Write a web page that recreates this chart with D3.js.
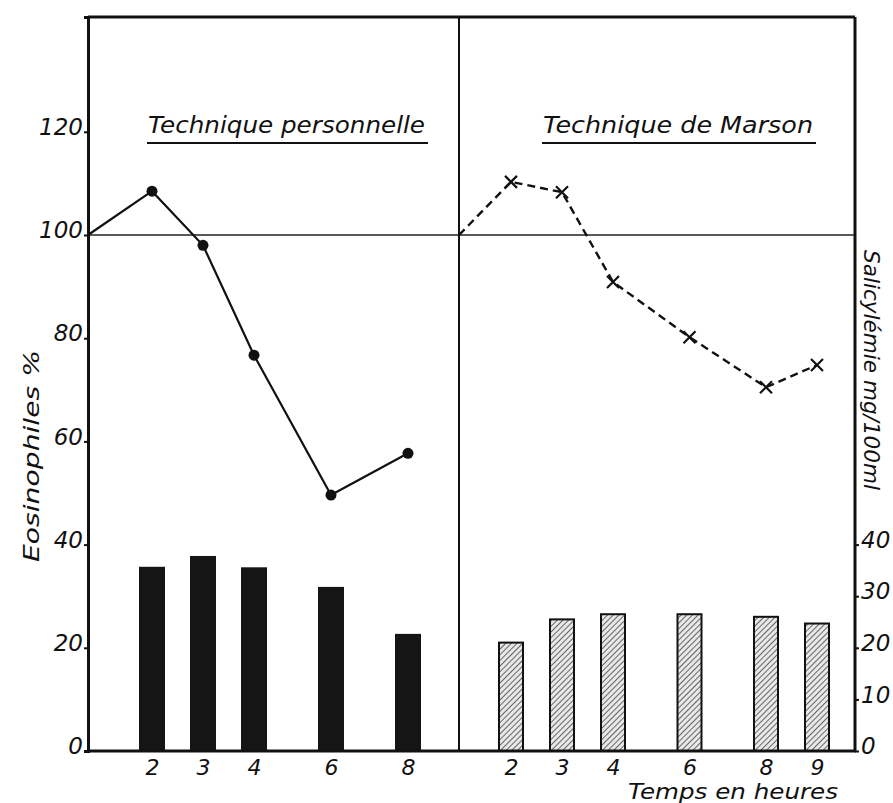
<!DOCTYPE html>
<html><head><meta charset="utf-8">
<script src="https://cdn.jsdelivr.net/npm/d3@7"></script>
<style>
body{margin:0;background:#fff;}
svg{display:block;}
text{font-family:"DejaVu Sans",sans-serif;font-style:italic;fill:#111;}
</style></head>
<body><svg id="c" width="893" height="803"></svg>
<script>
// ---- data ----
const hoursLeft = [2, 3, 4, 6, 8];
const eosLeft = [108.5, 98, 76.7, 49.6, 57.7];
const salLeft = [35.7, 37.8, 35.6, 31.8, 22.7];
const hoursRight = [2, 3, 4, 6, 8, 9];
const eosRight = [110.3, 108.3, 90.9, 80.2, 70.5, 74.8];
const salRight = [21.2, 25.7, 26.7, 26.7, 26.2, 24.9];
const startPoint = [0, 100];
const leftTicks = [0, 20, 40, 60, 80, 100, 120];
const rightTicks = [0, 10, 20, 30, 40];
const titles = ["Technique personnelle", "Technique de Marson"];
const yLabelLeft = "Eosinophiles %";
const yLabelRight = "Salicylémie mg/100ml";
const xLabel = "Temps en heures";

// ---- layout ----
const svg = d3.select("#c");
const X0 = 88, XM = 459, X1 = 855, YT = 17, YB = 751;
const y = d3.scaleLinear().domain([0, 142.25]).range([YB, YT]);
const yR = d3.scaleLinear().domain([0, 142.25]).range([YB, YT]);
const xL = d3.scaleLinear().domain([0, 2, 4, 8]).range([X0, 152, 254, 408]);
const xR = d3.scaleLinear().domain([0, 2, 4, 8, 9]).range([XM, 511, 613, 766, 817]);
const barW = 26;

// hatch pattern
const defs = svg.append("defs");
const pat = defs.append("pattern").attr("id", "hatch").attr("patternUnits", "userSpaceOnUse")
  .attr("width", 4).attr("height", 4).attr("patternTransform", "rotate(45)");
pat.append("rect").attr("width", 4).attr("height", 4).attr("fill", "#e8e8e8");
pat.append("line").attr("x1", 0).attr("y1", 0).attr("x2", 0).attr("y2", 4)
  .attr("stroke", "#444").attr("stroke-width", 1.6);

// 100 reference line
svg.append("line").attr("x1", X0).attr("x2", X1).attr("y1", y(100)).attr("y2", y(100))
  .attr("stroke", "#222").attr("stroke-width", 1.5);

// bars left (solid)
svg.append("g").selectAll("rect").data(hoursLeft).join("rect")
  .attr("x", (d) => xL(d) - barW / 2).attr("width", barW)
  .attr("y", (d, i) => yR(salLeft[i])).attr("height", (d, i) => YB - yR(salLeft[i]))
  .attr("fill", "#151515");
// bars right (hatched)
svg.append("g").selectAll("rect").data(hoursRight).join("rect")
  .attr("x", (d) => xR(d) - barW / 2 + 1).attr("width", barW - 2)
  .attr("y", (d, i) => yR(salRight[i]) + 1).attr("height", (d, i) => YB - yR(salRight[i]) - 1)
  .attr("fill", "url(#hatch)").attr("stroke", "#111").attr("stroke-width", 2);

// lines
const lineL = d3.line().x((d) => xL(d[0])).y((d) => y(d[1]));
const lineR = d3.line().x((d) => xR(d[0])).y((d) => y(d[1]));
const ptsL = [startPoint].concat(hoursLeft.map((h, i) => [h, eosLeft[i]]));
const ptsR = [startPoint].concat(hoursRight.map((h, i) => [h, eosRight[i]]));
svg.append("path").attr("d", lineL(ptsL)).attr("fill", "none").attr("stroke", "#111").attr("stroke-width", 2.2);
svg.append("path").attr("d", lineR(ptsR)).attr("fill", "none").attr("stroke", "#111")
  .attr("stroke-width", 2.4).attr("stroke-dasharray", "8,5");
svg.append("g").selectAll("circle").data(hoursLeft).join("circle")
  .attr("cx", (d) => xL(d)).attr("cy", (d, i) => y(eosLeft[i])).attr("r", 5.5).attr("fill", "#111");
const s = 6;
svg.append("g").selectAll("path").data(hoursRight).join("path")
  .attr("d", (d, i) => {
    const cx = xR(d), cy = y(eosRight[i]);
    return `M${cx - s},${cy - s}L${cx + s},${cy + s}M${cx + s},${cy - s}L${cx - s},${cy + s}`;
  })
  .attr("stroke", "#111").attr("stroke-width", 2.2).attr("fill", "none");

// frame
const frame = svg.append("g").attr("stroke", "#111").attr("fill", "none");
frame.append("line").attr("x1", X0).attr("x2", X1).attr("y1", YT).attr("y2", YT).attr("stroke-width", 3);
frame.append("line").attr("x1", XM).attr("x2", XM).attr("y1", YT).attr("y2", YB).attr("stroke-width", 2);
frame.append("line").attr("x1", X1).attr("x2", X1).attr("y1", YT).attr("y2", YB).attr("stroke-width", 3);

// left axis
const axL = svg.append("g").attr("transform", `translate(${X0},0)`)
  .call(d3.axisLeft(y).tickValues(leftTicks).tickSize(4).tickPadding(1).tickFormat(d3.format("d")));
axL.select(".domain").attr("stroke", "#111").attr("stroke-width", 3);
axL.selectAll(".tick line").attr("stroke", "#111").attr("stroke-width", 2);
axL.selectAll(".tick text").attr("font-size", 23).attr("font-family", null).attr("dy", "0.12em");

// right axis
const axR = svg.append("g").attr("transform", `translate(${X1},0)`)
  .call(d3.axisRight(yR).tickValues(rightTicks).tickSize(4).tickPadding(2).tickFormat(d3.format("d")));
axR.select(".domain").remove();
axR.selectAll(".tick line").attr("stroke", "#111").attr("stroke-width", 2);
axR.selectAll(".tick text").attr("font-size", 23).attr("font-family", null).attr("dy", "0.12em");

// bottom axes
const axBL = svg.append("g").attr("transform", `translate(0,${YB})`)
  .call(d3.axisBottom(xL).tickValues(hoursLeft).tickSize(0).tickPadding(8).tickFormat(d3.format("d")));
axBL.select(".domain").remove();
axBL.selectAll(".tick text").attr("font-size", 22).attr("font-family", null);
const axBR = svg.append("g").attr("transform", `translate(0,${YB})`)
  .call(d3.axisBottom(xR).tickValues(hoursRight).tickSize(0).tickPadding(8).tickFormat(d3.format("d")));
axBR.select(".domain").remove();
axBR.selectAll(".tick text").attr("font-size", 22).attr("font-family", null);
svg.append("line").attr("x1", X0 - 1).attr("x2", X1 + 1).attr("y1", YB).attr("y2", YB)
  .attr("stroke", "#111").attr("stroke-width", 3);

// titles
const tpos = [[148, 425], [543, 813]];
titles.forEach((t, i) => {
  svg.append("text").attr("x", tpos[i][0]).attr("y", 133).attr("font-size", 23)
    .attr("textLength", tpos[i][1] - tpos[i][0]).attr("lengthAdjust", "spacingAndGlyphs").text(t);
  svg.append("line").attr("x1", tpos[i][0] - 1).attr("x2", tpos[i][1] + 3).attr("y1", 143).attr("y2", 143)
    .attr("stroke", "#111").attr("stroke-width", 2.2);
});

// axis labels
svg.append("text").attr("transform", "translate(39,456) rotate(-90)").attr("text-anchor", "middle")
  .attr("font-size", 22).attr("textLength", 212).attr("lengthAdjust", "spacingAndGlyphs").text(yLabelLeft);
svg.append("text").attr("transform", "translate(864,370) rotate(90)").attr("text-anchor", "middle")
  .attr("font-size", 22).attr("textLength", 240).attr("lengthAdjust", "spacingAndGlyphs").text(yLabelRight);
svg.append("text").attr("x", 733).attr("y", 799).attr("text-anchor", "middle")
  .attr("font-size", 21).attr("textLength", 210).attr("lengthAdjust", "spacingAndGlyphs").text(xLabel);
</script></body></html>
